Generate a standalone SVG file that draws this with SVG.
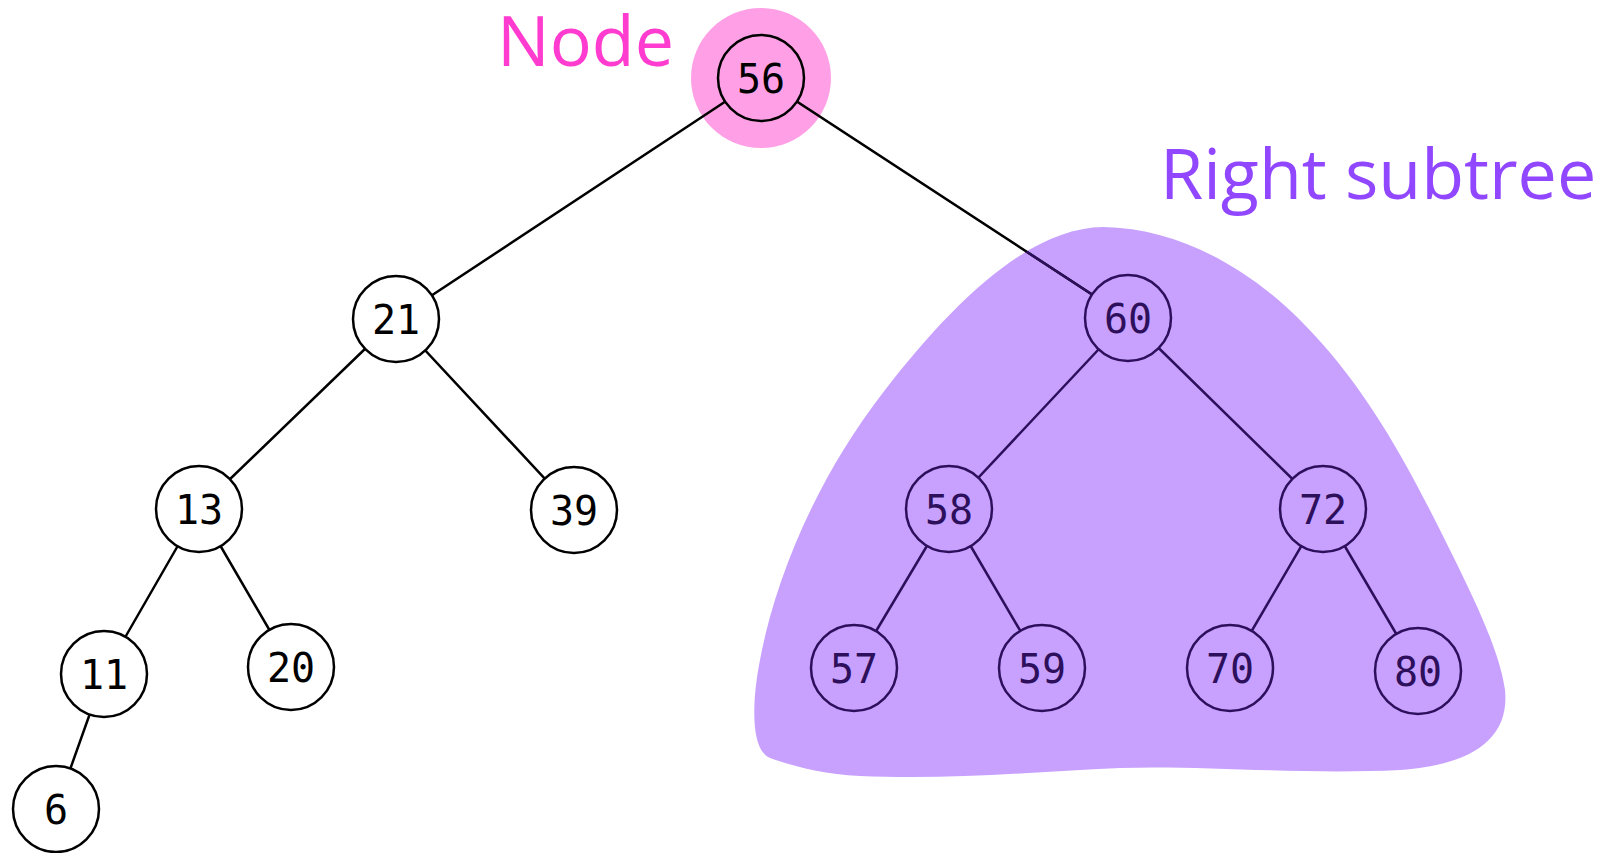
<svg xmlns="http://www.w3.org/2000/svg" width="1616" height="853" viewBox="0 0 1616 853">
  <style>
    .edge { stroke: #000; stroke-width: 2.5; fill: none; stroke-linecap: round; }
    .edge.in { stroke: #2d0f5c; }
    .node circle { stroke: #000; stroke-width: 2.5; fill: #fff; }
    .node text { font-family: "DejaVu Sans Mono", monospace; font-size: 40px; text-anchor: middle; fill: #000; }
    .node.sub circle { stroke: #2d0f5c; fill: #c8a1ff; }
    .node.sub text { fill: #2d0f5c; }
    .label { font-family: "Open Sans", "Noto Sans", sans-serif; font-size: 70px; }
  </style>
  <defs>
    <path id="blobShape" d="M 1103 227 C 1180 228, 1250 270, 1300 320 C 1360 380, 1400 450, 1440 530 C 1470 590, 1500 650, 1505 690 C 1510 740, 1470 765, 1400 770 C 1300 775, 1200 765, 1120 768 C 1030 772, 950 780, 860 776 C 820 774, 790 765, 770 758 C 750 750, 752 700, 760 660 C 775 580, 815 480, 885 390 C 955 300, 1030 228, 1103 227 Z"/>
    <clipPath id="blobClip"><use href="#blobShape"/></clipPath>
  </defs>

  <rect width="1616" height="853" fill="#fff"/>

  <!-- highlight areas -->
  <g id="right-subtree-area">
    <use href="#blobShape" fill="#c8a1ff"/>
  </g>
  <g id="node-halo">
    <circle cx="761" cy="78" r="70" fill="#ffa0e6"/>
  </g>

  <!-- labels -->
  <text id="label-node" class="label" x="497" y="66" fill="#ff3ccf">Node</text>
  <text id="label-right-subtree" class="label" x="1160" y="199" fill="#9146ff">Right subtree</text>

  <!-- connectors -->
  <g id="connectors">
    <line class="edge" x1="761" y1="78" x2="396" y2="319"/>
    <line class="edge" x1="761" y1="78" x2="1128" y2="318"/>
    <line class="edge in" x1="761" y1="78" x2="1128" y2="318" clip-path="url(#blobClip)"/>
    <line class="edge" x1="396" y1="319" x2="199" y2="509"/>
    <line class="edge" x1="396" y1="319" x2="574" y2="510"/>
    <line class="edge" x1="199" y1="509" x2="104" y2="674"/>
    <line class="edge" x1="199" y1="509" x2="291" y2="667"/>
    <line class="edge" x1="104" y1="674" x2="56" y2="809"/>
    <line class="edge in" x1="1128" y1="318" x2="949" y2="509"/>
    <line class="edge in" x1="1128" y1="318" x2="1323" y2="509"/>
    <line class="edge in" x1="949" y1="509" x2="854" y2="668"/>
    <line class="edge in" x1="949" y1="509" x2="1042" y2="668"/>
    <line class="edge in" x1="1323" y1="509" x2="1230" y2="668"/>
    <line class="edge in" x1="1323" y1="509" x2="1418" y2="671"/>
  </g>

  <!-- nodes -->
  <g id="n56" class="node"><circle cx="761" cy="78" r="43" style="fill:#ffa0e6"/><text x="761" y="93">56</text></g>
  <g id="n21" class="node"><circle cx="396" cy="319" r="43"/><text x="396" y="334">21</text></g>
  <g id="n13" class="node"><circle cx="199" cy="509" r="43"/><text x="199" y="524">13</text></g>
  <g id="n39" class="node"><circle cx="574" cy="510" r="43"/><text x="574" y="525">39</text></g>
  <g id="n11" class="node"><circle cx="104" cy="674" r="43"/><text x="104" y="689">11</text></g>
  <g id="n20" class="node"><circle cx="291" cy="667" r="43"/><text x="291" y="682">20</text></g>
  <g id="n6" class="node"><circle cx="56" cy="809" r="43"/><text x="56" y="824">6</text></g>

  <g id="n60" class="node sub"><circle cx="1128" cy="318" r="43"/><text x="1128" y="333">60</text></g>
  <g id="n58" class="node sub"><circle cx="949" cy="509" r="43"/><text x="949" y="524">58</text></g>
  <g id="n72" class="node sub"><circle cx="1323" cy="509" r="43"/><text x="1323" y="524">72</text></g>
  <g id="n57" class="node sub"><circle cx="854" cy="668" r="43"/><text x="854" y="683">57</text></g>
  <g id="n59" class="node sub"><circle cx="1042" cy="668" r="43"/><text x="1042" y="683">59</text></g>
  <g id="n70" class="node sub"><circle cx="1230" cy="668" r="43"/><text x="1230" y="683">70</text></g>
  <g id="n80" class="node sub"><circle cx="1418" cy="671" r="43"/><text x="1418" y="686">80</text></g>
</svg>
